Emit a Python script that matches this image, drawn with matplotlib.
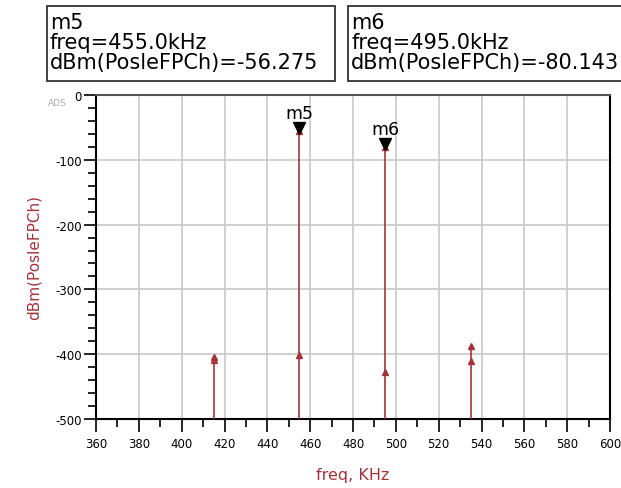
import numpy as np
import matplotlib.pyplot as plt
from matplotlib.patches import Rectangle

plt.rcParams['axes.unicode_minus'] = False

# spectral lines (kHz, dBm) - two tones at each freq
freqs = [415, 415, 455, 455, 495, 495, 535, 535]
levels = [-405, -409, -56.275, -401, -80.143, -428, -387, -411]

marker_names = ['m5', 'm6']
marker_freqs = [455.0, 495.0]
marker_vals = [-56.275, -80.143]

xticks = np.arange(360, 601, 20)
yticks = [0, -100, -200, -300, -400, -500]

red = '#a8323a'

fig = plt.figure(figsize=(6.21, 4.89), dpi=100)
ax = fig.add_axes([0.1546, 0.1411, 0.8277, 0.6626])

# stems from bottom to the highest level at each freq
for f in sorted(set(freqs)):
    top = max(l for ff, l in zip(freqs, levels) if ff == f)
    ax.vlines(f, -500, top, color=red, lw=1.2, zorder=3)
ax.plot(freqs, levels, ls='none', marker='^', ms=5, color=red, zorder=4)

# markers m5 / m6
for name, f, v in zip(marker_names, marker_freqs, marker_vals):
    ax.plot(f, v + 5, marker='v', ms=9, color='black', zorder=5, clip_on=False)
    ax.text(f, v + 14, name, ha='center', va='bottom', fontsize=12.5)

ax.set_xlim(360, 600)
ax.set_ylim(-500, 0)
ax.set_xticks(xticks)
ax.set_xticks(np.arange(370, 600, 20), minor=True)
ax.set_yticks(yticks)
ax.set_yticks(np.arange(-480, 0, 20), minor=True)
ax.tick_params(which='major', length=9, width=1.2, labelsize=8.5, colors='black')
ax.tick_params(which='minor', length=6, width=1.2)
ax.tick_params(axis='x', pad=4)
ax.tick_params(axis='y', pad=1)
ax.grid(True, which='major', color='#c8c8c8', lw=1.2)
ax.set_axisbelow(True)
for s in ['left', 'bottom', 'right']:
    ax.spines[s].set_linewidth(1.5)
ax.spines['top'].set_color('#555555')
ax.spines['top'].set_linewidth(1.5)

ax.set_ylabel('dBm(PosleFPCh)', color=red, fontsize=11, labelpad=10)
ax.set_xlabel('freq, KHz', color=red, fontsize=11.5, labelpad=12)

fig.text(48 / 621, 1 - 103 / 489, 'ADS', fontsize=6.5, color='#aaaaaa', va='center')

# marker readout boxes
box_text = ['m5\nfreq=455.0kHz\ndBm(PosleFPCh)=-56.275',
            'm6\nfreq=495.0kHz\ndBm(PosleFPCh)=-80.143']
box_x = [47, 348]
box_w = [288, 290]
for t, bx, bw in zip(box_text, box_x, box_w):
    fig.patches.append(Rectangle((bx / 621, 1 - 82 / 489), bw / 621, 75 / 489,
                                 transform=fig.transFigure, fc='white',
                                 ec='#333333', lw=1.3))
    fig.text((bx + 3) / 621, 1 - 43 / 489, t, fontsize=15, va='center', ha='left',
             linespacing=0.98)

fig.savefig('out.png', dpi=100)
